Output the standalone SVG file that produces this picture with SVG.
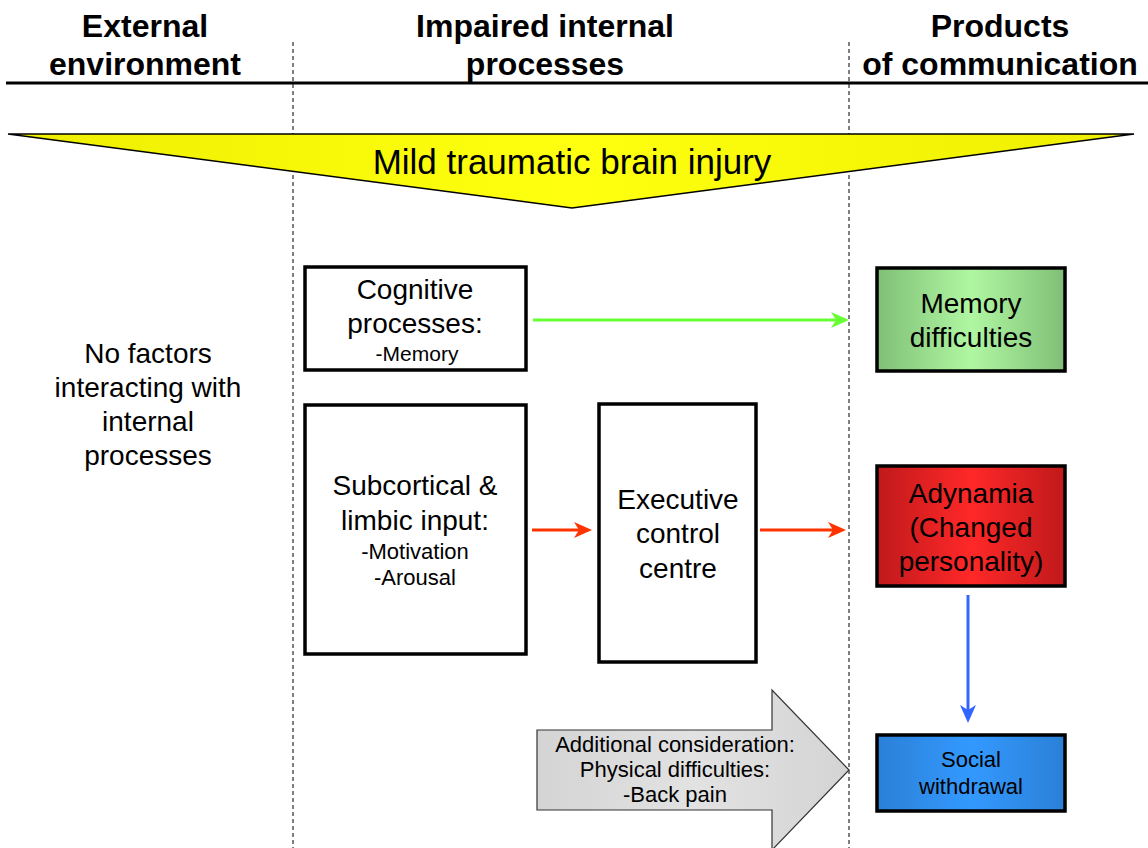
<svg xmlns="http://www.w3.org/2000/svg" width="1148" height="848" viewBox="0 0 1148 848">
<style>
text{font-family:"Liberation Sans",Arial,sans-serif;fill:#000;text-anchor:middle}
.hd{font-weight:bold;font-size:32px}
.t28{font-size:28px}
.t21{font-size:21px}
.t22{font-size:22px}
.box{stroke:#000;stroke-width:3.5}
.dash{stroke:#000;stroke-width:1;stroke-dasharray:4 3}
.conn{stroke-width:3;fill:none}
</style>
<defs>
<linearGradient id="gGreen" x1="0" y1="0" x2="1" y2="0">
<stop offset="0" stop-color="#7fbf76"/><stop offset="0.5" stop-color="#b0f7a2"/><stop offset="1" stop-color="#7fbf76"/>
</linearGradient>
<linearGradient id="gRed" x1="0" y1="0" x2="1" y2="0">
<stop offset="0" stop-color="#c0191b"/><stop offset="0.5" stop-color="#ff2828"/><stop offset="1" stop-color="#c0191b"/>
</linearGradient>
<linearGradient id="gBlue" x1="0" y1="0" x2="1" y2="0">
<stop offset="0" stop-color="#2b80d6"/><stop offset="0.5" stop-color="#3399ff"/><stop offset="1" stop-color="#2b80d6"/>
</linearGradient>
<linearGradient id="gYellow" x1="0" y1="0" x2="1" y2="0">
<stop offset="0" stop-color="#eeee00"/><stop offset="0.5" stop-color="#ffff10"/><stop offset="1" stop-color="#eeee00"/>
</linearGradient>
<linearGradient id="gGray" x1="0" y1="0" x2="1" y2="0">
<stop offset="0" stop-color="#d4d4d4"/><stop offset="0.5" stop-color="#e2e2e2"/><stop offset="1" stop-color="#d4d4d4"/>
</linearGradient>
<marker id="mGreen" viewBox="0 0 18 16" refX="8" refY="8" markerWidth="18" markerHeight="16" markerUnits="userSpaceOnUse" orient="auto"><path d="M0,0 L18,8 L0,16 L5,8 Z" fill="#66ff33"/></marker>
<marker id="mRed" viewBox="0 0 18 16" refX="8" refY="8" markerWidth="18" markerHeight="16" markerUnits="userSpaceOnUse" orient="auto"><path d="M0,0 L18,8 L0,16 L5,8 Z" fill="#ff3300"/></marker>
<marker id="mBlue" viewBox="0 0 18 16" refX="8" refY="8" markerWidth="18" markerHeight="16" markerUnits="userSpaceOnUse" orient="auto"><path d="M0,0 L18,8 L0,16 L5,8 Z" fill="#3366ff"/></marker>
</defs>
<rect width="1148" height="848" fill="#fff"/>

<g id="headers">
<text class="hd" x="145" y="37">External</text>
<text class="hd" x="145" y="75">environment</text>
<text class="hd" x="545" y="37">Impaired internal</text>
<text class="hd" x="545" y="75">processes</text>
<text class="hd" x="1000" y="37">Products</text>
<text class="hd" x="1000" y="75">of communication</text>
<line x1="6" y1="83" x2="1148" y2="83" stroke="#000" stroke-width="3"/>
<line class="dash" x1="293" y1="42" x2="293" y2="848"/>
<line class="dash" x1="849" y1="42" x2="849" y2="848"/>
</g>

<g id="mtbi">
<polygon points="8,134 1134,134 572,208" fill="url(#gYellow)" stroke="#000" stroke-width="1.5"/>
<text x="572" y="174" style="font-size:35px">Mild traumatic brain injury</text>
</g>

<g id="external">
<text class="t28" x="148" y="363">No factors</text>
<text class="t28" x="148" y="397">interacting with</text>
<text class="t28" x="148" y="431">internal</text>
<text class="t28" x="148" y="465">processes</text>
</g>

<g id="cognitive">
<rect class="box" x="305" y="267" width="221" height="103" fill="#fff"/>
<text class="t28" x="415" y="299">Cognitive</text>
<text class="t28" x="415" y="333">processes:</text>
<text class="t21" x="417" y="361">-Memory</text>
</g>

<g id="subcortical">
<rect class="box" x="305" y="405" width="221" height="249" fill="#fff"/>
<text class="t28" x="415" y="495">Subcortical &amp;</text>
<text class="t28" x="415" y="530">limbic input:</text>
<text class="t22" x="415" y="559">-Motivation</text>
<text class="t22" x="415" y="585">-Arousal</text>
</g>

<g id="executive">
<rect class="box" x="599" y="404" width="157" height="258" fill="#fff"/>
<text class="t28" x="678" y="509">Executive</text>
<text class="t28" x="678" y="543">control</text>
<text class="t28" x="678" y="578">centre</text>
</g>

<g id="memory">
<rect class="box" x="877" y="268" width="188" height="103" fill="url(#gGreen)"/>
<text class="t28" x="971" y="313">Memory</text>
<text class="t28" x="971" y="347">difficulties</text>
</g>

<g id="adynamia">
<rect class="box" x="877" y="466" width="188" height="120" fill="url(#gRed)"/>
<text class="t28" x="971" y="503">Adynamia</text>
<text class="t28" x="971" y="537">(Changed</text>
<text class="t28" x="971" y="571">personality)</text>
</g>

<g id="social">
<rect class="box" x="877" y="735" width="188" height="76" fill="url(#gBlue)"/>
<text class="t22" x="971" y="767">Social</text>
<text class="t22" x="971" y="794">withdrawal</text>
</g>

<g id="additional">
<polygon points="537,730 772,730 772,690 849,770 772,850 772,810 537,810" fill="url(#gGray)" stroke="#333" stroke-width="1.2"/>
<text class="t22" x="675" y="752">Additional consideration:</text>
<text class="t22" x="675" y="777">Physical difficulties:</text>
<text class="t22" x="675" y="802">-Back pain</text>
</g>

<g id="connectors">
<line class="conn" x1="533" y1="320" x2="839" y2="320" stroke="#66ff33" marker-end="url(#mGreen)"/>
<line class="conn" x1="532" y1="530" x2="582" y2="530" stroke="#ff3300" marker-end="url(#mRed)"/>
<line class="conn" x1="760" y1="530" x2="836" y2="530" stroke="#ff3300" marker-end="url(#mRed)"/>
<line class="conn" x1="968" y1="595" x2="968" y2="713" stroke="#3366ff" marker-end="url(#mBlue)"/>
</g>
</svg>
